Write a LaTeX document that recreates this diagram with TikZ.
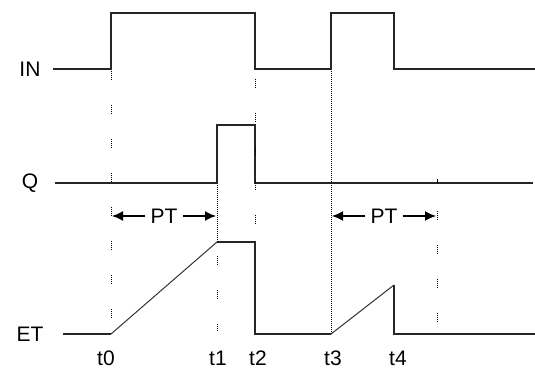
\documentclass[tikz,border=0pt]{standalone}
\usepackage{fontspec}
\setmainfont{Liberation Sans}
\usetikzlibrary{arrows.meta}

\begin{document}
\begin{tikzpicture}[
    x=1pt, y=-1pt,
    signal/.style={line width=1.7pt, black!85},
    dotline/.style={line width=1pt, black, dash pattern=on 1pt off 1pt},
    gapline/.style={line width=1pt, black, dash pattern=on 1pt off 1pt on 1pt off 1pt on 1pt off 1pt on 1pt off 1pt on 1pt off 25pt},
    lbl/.style={font=\fontsize{21}{24}\selectfont, inner sep=0pt},
    ptarrow/.style={line width=1.3pt, -{Latex[length=11pt, width=10pt]}}
]
\useasboundingbox (0,0) rectangle (535,374);

% ---- 时间点 ----
\def\tzero{111}
\def\tone{217}
\def\ttwo{255}
\def\tthree{331}
\def\tfour{394}
\def\tend{437}

% ---- 信号名称 ----
\node[lbl] (in) at (30,69)  {IN};
\node[lbl] (q)  at (30,183) {Q};
\node[lbl] (et) at (30,334) {ET};

% ---- 画 IN ----
\draw[signal] (53,69) -- (\tzero,69) -- (\tzero,13) -- (\ttwo,13) -- (\ttwo,69)
    -- (\tthree,69) -- (\tthree,13) -- (\tfour,13) -- (\tfour,69) -- (535,69);

% ---- 画 Q ----
\draw[signal] (55,183) -- (\tone,183) -- (\tone,125) -- (\ttwo,125) -- (\ttwo,183) -- (533,183);
\draw[line width=1pt] (\tend,179) -- (\tend,183);

% ---- 画 ET ----
\draw[signal] (63,334) -- (\tzero,334);
\draw[line width=1pt, black!80] (\tzero,334) -- (\tone,242);
\draw[signal] (\tone,242) -- (\ttwo,242) -- (\ttwo,334) -- (\tthree,334);
\draw[line width=1pt, black!80] (\tthree,334) -- (\tfour,285);
\draw[signal] (\tfour,285) -- (\tfour,334) -- (535,334);

% ---- 虚线 ----
\draw[gapline] (\tzero,71) -- (\tzero,332);
\draw[dotline] (\tone,185) -- (\tone,242);
\draw[gapline] (\tone,256) -- (\tone,332);
\draw[gapline] (\ttwo,79) -- (\ttwo,242);
\draw[dotline] (\tthree,71) -- (\tthree,334);
\draw[gapline] (\tend,211) -- (\tend,322);

% ---- PT 箭头 ----
\foreach \a/\b/\n in {\tzero/\tone/1, \tthree/\tend/2} {
    \pgfmathsetmacro{\xmid}{(\a+\b)/2}
    \node[lbl, fill=white, inner xsep=5pt] (pt\n) at (\xmid,216) {PT};
    \draw[ptarrow] (pt\n.west) -- (\a+1,216);
    \draw[ptarrow] (pt\n.east) -- (\b-1,216);
}

% ---- 时间标注 ----
\foreach \x/\t in {106/t0, 218/t1, 258/t2, 333/t3, 398/t4} {
    \node[lbl] (\t) at (\x,358) {\t};
}
\end{tikzpicture}
\end{document}
